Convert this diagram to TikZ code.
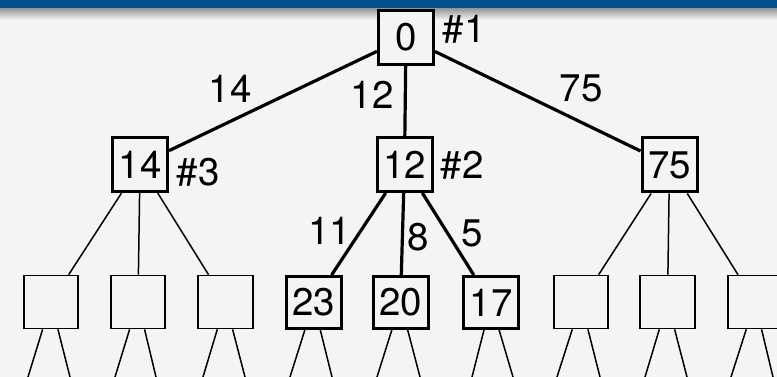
\documentclass[tikz,border=0pt]{standalone}
\usepackage{fontspec}
\setmainfont{TeX Gyre Heros}
\definecolor{bg}{HTML}{F4F4F4}
\definecolor{barblue}{HTML}{03508C}
\begin{document}
\begin{tikzpicture}[x=1pt,y=-1pt,
  font=\fontsize{38.5}{41}\selectfont,
  bbox/.style={draw,line width=3pt,fill=bg,minimum width=55pt,minimum height=54pt,inner sep=0pt},
  bbox3/.style={bbox,minimum height=52pt},
  tbox/.style={draw,line width=1.6pt,fill=bg,minimum width=54.5pt,minimum height=53pt,inner sep=0pt},
  bedge/.style={line width=3.2pt},
  tedge/.style={line width=1.5pt},
  lbl/.style={inner sep=0pt}]
\useasboundingbox (0,0) rectangle (777,377);
\fill[bg] (0,0) rectangle (777,377);
\shade[top color=black!42, bottom color=bg] (0,8) rectangle (777,20);
\fill[barblue] (0,0) rectangle (777,8.5);
\begin{scope}
\clip (0,0) rectangle (777,377);
% nodes
\node[bbox] (r) at (406,37.5) {0};
\node[bbox] (a) at (140,164.5) {14};
\node[bbox] (b) at (404.5,164.5) {12};
\node[bbox] (c) at (669.5,165) {75};
\node[tbox] (a1) at (51,302) {};
\node[tbox] (a2) at (138,302) {};
\node[tbox] (a3) at (225.5,302) {};
\node[bbox3] (b1) at (313.5,302.5) {23};
\node[bbox3] (b2) at (400.5,302.5) {20};
\node[bbox3] (b3) at (491,302.5) {17};
\node[tbox] (c1) at (581,302) {};
\node[tbox] (c2) at (667.5,302) {};
\node[tbox] (c3) at (755,302) {};
% level-4 free ends
\coordinate (a1l) at (28,377);  \coordinate (a1r) at (70,377);
\coordinate (a2l) at (115,377); \coordinate (a2r) at (156,377);
\coordinate (a3l) at (203,377); \coordinate (a3r) at (245,377);
\coordinate (b1l) at (290,377); \coordinate (b1r) at (332,377);
\coordinate (b2l) at (377,377); \coordinate (b2r) at (420,377);
\coordinate (b3l) at (472,377); \coordinate (b3r) at (513,377);
\coordinate (c1l) at (557,377); \coordinate (c1r) at (600,377);
\coordinate (c2l) at (645,377); \coordinate (c2r) at (687,377);
\coordinate (c3l) at (731,377); \coordinate (c3r) at (773,377);
% bold edges
\draw[bedge] (r) -- (a);
\draw[bedge] (r) -- (b);
\draw[bedge] (r) -- (c);
\draw[bedge] (b) -- (b1);
\draw[bedge] (b) -- (b2);
\draw[bedge] (b) -- (b3);
% thin edges
\draw[tedge] (a) -- (a1);
\draw[tedge] (a) -- (a2);
\draw[tedge] (a) -- (a3);
\draw[tedge] (c) -- (c1);
\draw[tedge] (c) -- (c2);
\draw[tedge] (c) -- (c3);
\foreach \n in {a1,a2,a3,b1,b2,b3,c1,c2,c3}{
  \draw[tedge,shorten >=-6pt] (\n) -- (\n l);
  \draw[tedge,shorten >=-6pt] (\n) -- (\n r);
}
% labels
\node[lbl] (l14) at (230,88.5) {14};
\node[lbl] (l12) at (372,95) {12};
\node[lbl] (l75) at (581,88.5) {75};
\node[lbl] (l11) at (329.5,230.5) {11};
\node[lbl] (l8) at (418,237.5) {8};
\node[lbl] (l5) at (472,233.5) {5};
\node[lbl] (n1) at (464,29) {\#1};
\node[lbl] (n2) at (462,165) {\#2};
\node[lbl] (n3) at (198,172.5) {\#3};
\end{scope}
\end{tikzpicture}
\end{document}
